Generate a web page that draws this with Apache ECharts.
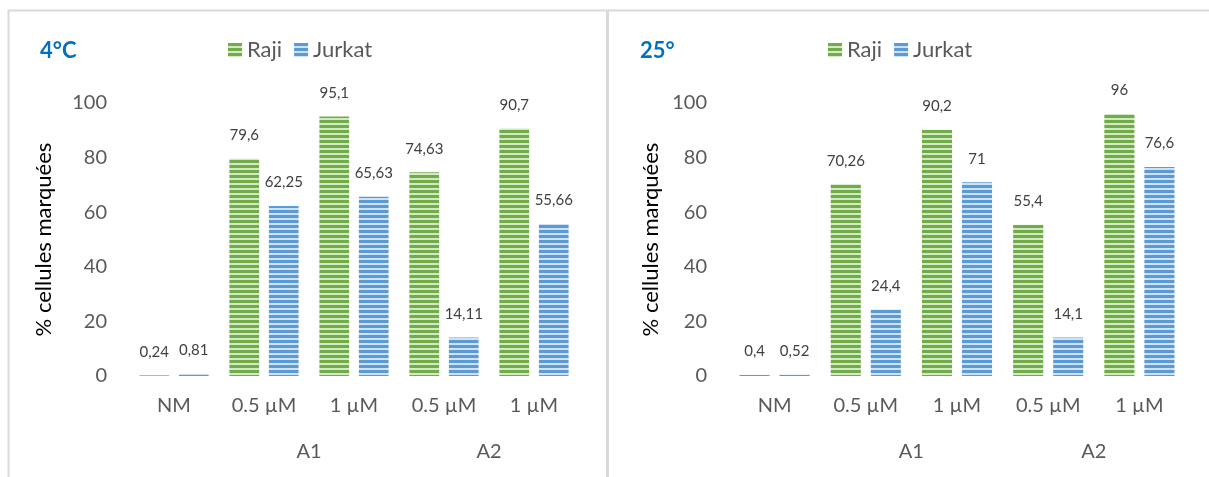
<!DOCTYPE html>
<html>
<head>
<meta charset="utf-8">
<script src="https://cdn.jsdelivr.net/npm/echarts@6/dist/echarts.min.js"></script>
<style>
  html, body { margin: 0; padding: 0; background: #fff; }
  #chart { width: 1209px; height: 477px; }
</style>
</head>
<body>
<div id="chart"></div>
<script>
const chart = echarts.init(document.getElementById("chart"));

const categories = ["NM", "0.5 µM", "1 µM", "0.5 µM", "1 µM"];
const groupLabels = { 2: "A1", 4: "A2" };
const yTicks = { min: 0, max: 100, interval: 20 };

const titles = ["4°C", "25°"];
const raji4 = [0.24, 79.6, 95.1, 74.63, 90.7];
const jurkat4 = [0.81, 62.25, 65.63, 14.11, 55.66];
const raji25 = [0.4, 70.26, 90.2, 55.4, 96];
const jurkat25 = [0.52, 24.4, 71, 14.1, 76.6];

const FONT = "Lato";

function stripes(dark, light) {
	const c = document.createElement("canvas");
	c.width = 4;
	c.height = 5;
	const ctx = c.getContext("2d");
	ctx.fillStyle = light;
	ctx.fillRect(0, 0, 4, 5);
	ctx.fillStyle = dark;
	ctx.fillRect(0, 0, 4, 3);
	return { image: c, repeat: "repeat" };
}
const green = stripes("#70ad47", "#d3e8c5");
const blue = stripes("#5b9bd5", "#cfe1f3");

const panels = [
	{ left: 129, width: 450, title: 40, legend: 228, nameGap: 74, raji: raji4, jurkat: jurkat4 },
	{ left: 729, width: 456, title: 640, legend: 828, nameGap: 67, raji: raji25, jurkat: jurkat25 }
];

const fmt = p => String(p.value).replace(".", ",");

const option = {
	animation: false,
	title: panels.map((p, i) => ({
		text: titles[i],
		left: p.title,
		top: 40,
		padding: 0,
		textStyle: { fontFamily: FONT, fontSize: 22, fontWeight: "bold", color: "#0070c0" }
	})),
	legend: panels.map((p, i) => ({
		left: p.legend,
		top: 39,
		padding: 0,
		itemWidth: 14,
		itemHeight: 14,
		itemGap: 12,
		data: [
			{ name: "Raji", icon: "rect" },
			{ name: "Jurkat", icon: "rect" }
		],
		textStyle: { fontFamily: FONT, fontSize: 22, color: "#595959" }
	})),
	grid: panels.map(p => ({ left: p.left, width: p.width, top: 103, bottom: 101 })),
	xAxis: [],
	yAxis: [],
	series: [],
	graphic: [
		{ type: "line", shape: { x1: 8, y1: 10.5, x2: 1209, y2: 10.5 }, style: { stroke: "#d9d9d9", lineWidth: 2 } },
		{ type: "line", shape: { x1: 8.5, y1: 10, x2: 8.5, y2: 477 }, style: { stroke: "#d9d9d9", lineWidth: 2 } },
		{ type: "line", shape: { x1: 607.5, y1: 10, x2: 607.5, y2: 477 }, style: { stroke: "#d9d9d9", lineWidth: 3 } }
	]
};

panels.forEach((p, i) => {
	option.xAxis.push({
		type: "category",
		gridIndex: i,
		data: categories,
		axisLine: { show: false },
		axisTick: { show: false },
		axisLabel: { fontFamily: FONT, fontSize: 20, color: "#595959", margin: 20 }
	});
	option.xAxis.push({
		type: "value",
		gridIndex: i,
		position: "bottom",
		offset: 48,
		min: 0,
		max: 5,
		interval: 1,
		axisLine: { show: false },
		axisTick: { show: false },
		splitLine: { show: false },
		axisLabel: {
			fontFamily: FONT, fontSize: 20, color: "#595959", margin: 18,
			formatter: v => groupLabels[v] || ""
		}
	});
	option.yAxis.push({
		type: "value",
		gridIndex: i,
		min: yTicks.min,
		max: yTicks.max,
		interval: yTicks.interval,
		name: "% cellules marquées",
		nameLocation: "middle",
		nameGap: p.nameGap,
		nameTextStyle: { fontFamily: FONT, fontSize: 22, color: "#000" },
		axisLine: { show: false },
		axisTick: { show: false },
		splitLine: { show: false },
		axisLabel: { fontFamily: FONT, fontSize: 20, color: "#595959", margin: 22 }
	});
	const label = {
		show: true,
		position: "top",
		distance: 16,
		fontFamily: FONT,
		fontSize: 15,
		color: "#404040",
		formatter: fmt
	};
	option.series.push({
		name: "Raji",
		type: "bar",
		xAxisIndex: i * 2,
		yAxisIndex: i,
		data: p.raji,
		barWidth: "33%",
		barGap: "33%",
		itemStyle: { color: green },
		label
	});
	option.series.push({
		name: "Jurkat",
		type: "bar",
		xAxisIndex: i * 2,
		yAxisIndex: i,
		data: p.jurkat,
		barWidth: "33%",
		barGap: "33%",
		itemStyle: { color: blue },
		label
	});
});

chart.setOption(option);
window.onresize = chart.resize;
</script>
</body>
</html>
